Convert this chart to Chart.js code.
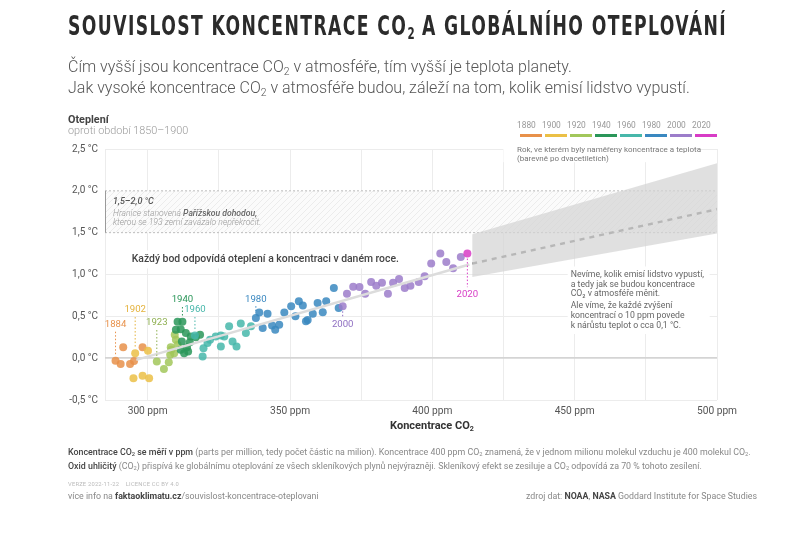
<!DOCTYPE html>
<html>
<head>
<meta charset="utf-8">
<script src="https://cdn.jsdelivr.net/npm/chart.js"></script>
<style>
  html, body { margin: 0; padding: 0; background: #fff; }
  body { width: 805px; height: 552px; position: relative; overflow: hidden; font-family: Roboto, sans-serif; }
  #wrap { position: absolute; left: 0; top: 0; width: 805px; height: 552px; }
  .abs { position: absolute; white-space: nowrap; }
  #title { left: 68px; top: 11px; font-family: 'DejaVu Sans Condensed', sans-serif; font-weight: bold; font-size: 27px; line-height: 30px; letter-spacing: 2px; color: #2b2b2b; transform-origin: 0 0; }
  #title sub { font-size: 60%; vertical-align: -0.25em; letter-spacing: 0; }
  #subtitle { left: 68px; top: 57px; font-size: 16px; font-weight: 300; line-height: 20.5px; color: #555; }
  sub { font-size: 65%; vertical-align: -0.25em; line-height: 0; }
  #ytitle { left: 68px; top: 114px; font-size: 10.8px; line-height: 11px; color: #444; }
  #ytitle b { font-weight: 700; color: #444; }
  #ytitle span { color: #999; font-weight: 300; }
  #xtitle { left: 0; width: 864px; top: 419px; text-align: center; font-size: 11px; font-weight: 700; color: #333; }
  .legyear { position: absolute; top: 120px; font-size: 8.4px; color: #999; }
  .legbar { position: absolute; top: 134px; height: 3px; }
  #legnote { left: 517px; top: 145px; font-size: 8px; line-height: 9px; color: #777; }
  #foot1 { left: 68px; top: 446px; font-size: 8.85px; line-height: 13.5px; color: #888; }
  #foot1 b { font-weight: 500; color: #444; }
  #ver { left: 68px; top: 481px; font-size: 5.8px; color: #bbb; letter-spacing: 0.2px; }
  #more { left: 68px; top: 491px; font-size: 8.8px; color: #888; }
  #more b, #src b { font-weight: 700; color: #444; }
  #src { right: 48px; top: 491px; font-size: 8.8px; color: #888; }
</style>
</head>
<body>
<div id="wrap"><canvas id="chart" width="805" height="552"></canvas></div>

<div id="title" class="abs">SOUVISLOST KONCENTRACE CO<sub>2</sub> A GLOBÁLNÍHO OTEPLOVÁNÍ</div>
<div id="subtitle" class="abs">Čím vyšší jsou koncentrace CO<sub>2</sub> v atmosféře, tím vyšší je teplota planety.<br>Jak vysoké koncentrace CO<sub>2</sub> v atmosféře budou, záleží na tom, kolik emisí lidstvo vypustí.</div>
<div id="ytitle" class="abs"><b>Oteplení</b><br><span>oproti období 1850–1900</span></div>
<div id="xtitle" class="abs">Koncentrace CO<sub>2</sub></div>
<div id="legend"></div>
<div id="legnote" class="abs">Rok, ve kterém byly naměřeny koncentrace a teplota<br>(barevně po dvacetiletích)</div>
<div id="foot1" class="abs"><b>Koncentrace CO<sub>2</sub> se měří v ppm</b> (parts per million, tedy počet částic na milion). Koncentrace 400 ppm CO<sub>2</sub> znamená, že v jednom milionu molekul vzduchu je 400 molekul CO<sub>2</sub>.<br><b>Oxid uhličitý</b> (CO<sub>2</sub>) přispívá ke globálnímu oteplování ze všech skleníkových plynů nejvýrazněji. Skleníkový efekt se zesiluje a CO<sub>2</sub> odpovídá za 70 % tohoto zesílení.</div>
<div id="ver" class="abs">VERZE 2022-11-22 &nbsp;&nbsp; LICENCE CC BY 4.0</div>
<div id="more" class="abs">více info na <b>faktaoklimatu.cz</b>/souvislost-koncentrace-oteplovani</div>
<div id="src" class="abs">zdroj dat: <b>NOAA</b>, <b>NASA</b> Goddard Institute for Space Studies</div>

<script>
// year of measurement, CO2 concentration (ppm), warming vs 1850-1900 (°C)
const years = [1884, 1886, 1889, 1893, 1899, 1898, 1902, 1904, 1909, 1911, 1914,
  1923, 1925, 1927, 1929, 1931, 1933, 1934, 1936, 1937, 1938,
  1940, 1941, 1942, 1943, 1944, 1945, 1946, 1947, 1948, 1949, 1950, 1951, 1953, 1956,
  1960, 1961, 1962, 1963, 1964, 1966, 1967, 1968, 1969, 1970, 1971, 1972, 1973, 1974, 1977,
  1980, 1981, 1982, 1983, 1984, 1985, 1986, 1987, 1988, 1989, 1990, 1991, 1992, 1993, 1994,
  1995, 1996, 1997, 1998, 1999,
  2000, 2001, 2002, 2003, 2004, 2005, 2006, 2007, 2008, 2009, 2010, 2011, 2012, 2013, 2014,
  2015, 2016, 2017, 2018, 2019, 2020];
const co2 = [288.7, 290.5, 291.4, 293.8, 295.2, 298.2, 295.6, 295.0, 298.2, 300.5, 300.1,
  303.2, 305.7, 307.4, 307.9, 308.3, 309.3, 308.1, 309.9, 310.5, 309.5,
  312.2, 310.5, 309.9, 311.6, 313.4, 315.1, 311.6, 312.8, 313.8, 312.0, 314.2, 314.8, 316.9, 318.4,
  316.6, 319.6, 321.0, 321.9, 319.3, 323.9, 325.7, 325.7, 326.9, 328.6, 329.8, 331.2, 332.7, 334.5, 336.3,
  338.0, 339.2, 340.4, 342.1, 343.7, 344.8, 346.2, 348.0, 350.4, 351.9, 353.1, 354.5, 355.6, 356.2, 358.0,
  359.7, 361.5, 362.7, 365.4, 367.1,
  368.5, 370.0, 372.2, 374.4, 376.4, 378.5, 380.3, 382.3, 384.4, 386.2, 388.3, 390.3, 392.3, 395.2, 397.3,
  399.6, 402.8, 404.9, 407.3, 410.0, 412.3];
const temp = [-0.03, -0.07, 0.13, -0.07, -0.035, 0.13, 0.06, -0.24, -0.21, -0.24, 0.09,
  -0.04, -0.13, -0.05, 0.04, 0.10, 0.06, 0.13, 0.22, 0.16, 0.28,
  0.435, 0.435, 0.34, 0.345, 0.30, 0.26, 0.10, 0.06, 0.13, 0.20, 0.08, 0.19, 0.25, 0.28,
  0.27, 0.12, 0.18, 0.22, 0.02, 0.26, 0.27, 0.14, 0.26, 0.38, 0.20, 0.14, 0.415, 0.30, 0.38,
  0.48, 0.545, 0.36, 0.53, 0.39, 0.34, 0.40, 0.545, 0.62, 0.50, 0.68, 0.63, 0.44, 0.455, 0.53,
  0.66, 0.55, 0.68, 0.84, 0.60,
  0.62, 0.77, 0.855, 0.85, 0.77, 0.91, 0.865, 0.90, 0.77, 0.90, 0.945, 0.84, 0.865, 0.91, 0.98,
  1.13, 1.25, 1.15, 1.075, 1.21, 1.25];

// twenty-year periods and their colours
const periodStarts = [1880, 1900, 1920, 1940, 1960, 1980, 2000, 2020];
const periodColors = ['#e8914a', '#ebc046', '#a2c75b', '#2a9659', '#47b7aa', '#3a88c0', '#9c7dca', '#d83cc6'];
const labelColors  = ['#e8914a', '#e4b23c', '#8fb052', '#2a9659', '#47b7aa', '#3a88c0', '#8f6fc2', '#d83cc6'];

// highlighted years and the warming at which their label sits
const labelYears = [1884, 1902, 1923, 1940, 1960, 1980, 2000, 2020];
const labelTemps = [0.40, 0.575, 0.42, 0.695, 0.576, 0.705, 0.40, 0.765];

// fitted trend and the projection beyond today
const trendCo2 = [296, 413];
const trendTemp = [-0.02, 1.12];
const projCo2 = [414, 500];
const projTemp = [1.13, 1.78];
const projLow = [0.97, 1.49];
const projHigh = [1.48, 2.33];

// Paris agreement band
const parisLow = 1.5, parisHigh = 2.0;

const xTicks = [285, 300, 325, 350, 375, 400, 425, 450, 475, 500];
const yTicks = [-0.5, 0, 0.5, 1.0, 1.5, 2.0, 2.5];

function periodIndex(y) { return Math.min(periodStarts.length - 1, Math.floor((y - 1880) / 20)); }
function alpha(hex, a) {
  const n = parseInt(hex.slice(1), 16);
  return `rgba(${n >> 16},${(n >> 8) & 255},${n & 255},${a})`;
}

// legend strip
const leg = document.getElementById('legend');
periodStarts.forEach((y, i) => {
  const left = 520 + i * 25;
  const t = document.createElement('div');
  t.className = 'legyear'; t.style.left = (left - 3) + 'px'; t.textContent = y;
  const b = document.createElement('div');
  b.className = 'legbar'; b.style.left = left + 'px'; b.style.width = '21.5px';
  b.style.background = periodColors[i];
  leg.appendChild(t); leg.appendChild(b);
});

// fit title width
const title = document.getElementById('title');
title.style.transform = 'scaleX(' + (659 / title.getBoundingClientRect().width) + ')';

const points = co2.map((c, i) => ({ x: c, y: temp[i] }));
const toXY = (xs, ys) => xs.map((x, i) => ({ x: x, y: ys[i] }));

const hatch = (() => {
  const c = document.createElement('canvas');
  c.width = 6; c.height = 6;
  const g = c.getContext('2d');
  g.fillStyle = '#fbfbfb'; g.fillRect(0, 0, 6, 6);
  g.strokeStyle = '#ececec'; g.lineWidth = 1;
  g.beginPath(); g.moveTo(0, 6); g.lineTo(6, 0); g.moveTo(-1, 1); g.lineTo(1, -1); g.moveTo(5, 7); g.lineTo(7, 5); g.stroke();
  return c;
})();

function textBox(ctx, lines, x, y, lh, pad) {
  let w = 0;
  lines.forEach(l => { w = Math.max(w, ctx.measureText(l).width); });
  ctx.fillStyle = '#fff';
  ctx.fillRect(x - pad, y - lh / 2 - pad, w + 2 * pad, lh * lines.length + 2 * pad);
}

const backdrop = {
  id: 'backdrop',
  beforeDatasetsDraw(chart) {
    const { ctx, chartArea: a, scales: { x, y } } = chart;
    ctx.save();
    // Paris band
    const yT = y.getPixelForValue(parisHigh), yB = y.getPixelForValue(parisLow);
    ctx.fillStyle = ctx.createPattern(hatch, 'repeat');
    ctx.fillRect(a.left, yT, a.right - a.left, yB - yT);
    ctx.strokeStyle = '#bdbdbd'; ctx.lineWidth = 1; ctx.setLineDash([2, 2]);
    ctx.beginPath();
    ctx.moveTo(a.left, yT); ctx.lineTo(a.right, yT);
    ctx.moveTo(a.left, yB); ctx.lineTo(a.right, yB);
    ctx.stroke();
    ctx.setLineDash([]);
    ctx.strokeStyle = '#9a9a9a';
    ctx.beginPath(); ctx.moveTo(a.left + 0.5, yT); ctx.lineTo(a.left + 0.5, yB); ctx.stroke();

    const px = a.left + 8;
    ctx.textBaseline = 'middle'; ctx.textAlign = 'left';
    ctx.font = 'italic 500 9px Roboto'; ctx.fillStyle = '#555';
    ctx.fillText('1,5–2,0 °C', px, yT + 11);
    ctx.font = 'italic 300 8.6px Roboto'; ctx.fillStyle = '#999';
    const pre = 'Hranice stanovená ';
    ctx.fillText(pre, px, yT + 23);
    const w1 = ctx.measureText(pre).width;
    ctx.font = 'italic 500 8.6px Roboto'; ctx.fillStyle = '#666';
    ctx.fillText('Pařížskou dohodou,', px + w1, yT + 23);
    ctx.font = 'italic 300 8.6px Roboto'; ctx.fillStyle = '#999';
    ctx.fillText('kterou se 193 zemí zavázalo nepřekročit.', px, yT + 32.5);

    // legend note backdrop
    ctx.font = '8px Roboto';
    textBox(ctx, ['Rok, ve kterém byly naměřeny koncentrace a teplota'], x.getPixelForValue(426) , y.getPixelForValue(2.48), 17, 3);

    // "each point" note
    const kx = x.getPixelForValue(294.4), ky = y.getPixelForValue(1.18);
    ctx.font = '500 10.4px Roboto';
    const ktxt = 'Každý bod odpovídá oteplení a koncentraci v daném roce.';
    textBox(ctx, [ktxt], kx, ky, 12, 3);
    ctx.fillStyle = '#444';
    ctx.fillText(ktxt, kx, ky);

    // projection note
    const nx = x.getPixelForValue(448.6);
    ctx.font = '8.7px Roboto';
    const notes = [
      ['Nevíme, kolik emisí lidstvo vypustí,', 1.0],
      ['a tedy jak se budou koncentrace', 0.882],
      ['CO₂ v atmosféře měnit.', 0.765],
      ['Ale víme, že každé zvýšení', 0.62],
      ['koncentrací o 10 ppm povede', 0.502],
      ['k nárůstu teplot o cca 0,1 °C.', 0.385]
    ];
    const ny0 = y.getPixelForValue(notes[0][1]), ny1 = y.getPixelForValue(notes[5][1]);
    ctx.fillStyle = '#fff';
    ctx.fillRect(nx - 3, ny0 - 8, 142, ny1 - ny0 + 16);
    ctx.fillStyle = '#666';
    notes.forEach(n => ctx.fillText(n[0], nx, y.getPixelForValue(n[1])));
    ctx.restore();
  }
};

const yearLabels = {
  id: 'yearLabels',
  afterDatasetsDraw(chart) {
    const { ctx, scales: { x, y } } = chart;
    ctx.save();
    ctx.font = '9.6px Roboto';
    ctx.textAlign = 'center'; ctx.textBaseline = 'middle';
    labelYears.forEach((yr, i) => {
      const k = years.indexOf(yr);
      const col = labelColors[periodIndex(yr)];
      const px = x.getPixelForValue(co2[k]);
      const py = y.getPixelForValue(temp[k]);
      const ly = y.getPixelForValue(labelTemps[i]);
      ctx.strokeStyle = col; ctx.lineWidth = 1; ctx.setLineDash([1.5, 2]);
      ctx.beginPath();
      if (ly < py) { ctx.moveTo(px, ly + 7); ctx.lineTo(px, py - 5); }
      else { ctx.moveTo(px, py + 5); ctx.lineTo(px, ly - 7); }
      ctx.stroke();
      ctx.setLineDash([]);
      ctx.fillStyle = col;
      ctx.fillText(String(yr), px, ly);
    });
    ctx.restore();
  }
};

new Chart(document.getElementById('chart'), {
  type: 'scatter',
  data: {
    datasets: [
      {
        type: 'line', data: toXY(projCo2, projLow), borderWidth: 0, pointRadius: 0, fill: false
      },
      {
        type: 'line', data: toXY(projCo2, projHigh), borderWidth: 0, pointRadius: 0,
        fill: '-1', backgroundColor: 'rgba(212,212,212,0.72)'
      },
      {
        type: 'line', data: toXY(trendCo2, trendTemp), borderColor: '#dcdcdc', borderWidth: 2.5, pointRadius: 0
      },
      {
        type: 'line', data: toXY(projCo2, projTemp), borderColor: '#6e6e6e', borderWidth: 2.4,
        borderDash: [5, 5], pointRadius: 0
      },
      {
        data: points,
        pointRadius: 4,
        borderWidth: 0,
        backgroundColor: ctx => alpha(periodColors[periodIndex(years[ctx.dataIndex])], 0.85)
      }
    ]
  },
  options: {
    responsive: false,
    animation: false,
    events: [],
    layout: { padding: { left: 60, right: 88, top: 149, bottom: 100 } },
    plugins: { legend: { display: false }, tooltip: { enabled: false } },
    scales: {
      x: {
        type: 'linear', min: 285, max: 500,
        afterBuildTicks: axis => { axis.ticks = xTicks.map(v => ({ value: v })); },
        afterFit: s => { s.height = 52; },
        grid: { color: '#ececec', drawTicks: false },
        border: { display: false },
        ticks: {
          padding: 5, color: '#555', font: { family: 'Roboto', size: 10.2 },
          callback: v => (v % 50 === 0 ? v + ' ppm' : '')
        }
      },
      y: {
        type: 'linear', min: -0.5, max: 2.5,
        afterBuildTicks: axis => { axis.ticks = yTicks.map(v => ({ value: v })); },
        afterFit: s => { s.width = 45; },
        grid: {
          drawTicks: false,
          color: c => (c.tick.value === 1.5 || c.tick.value === 2 ? 'rgba(0,0,0,0)' : c.tick.value === 0 ? '#d4d4d4' : '#ececec'),
          lineWidth: c => (c.tick.value === 0 ? 1.8 : 1)
        },
        border: { display: false },
        ticks: {
          padding: 7, color: '#555', font: { family: 'Roboto', size: 10 },
          callback: v => v.toFixed(1).replace('.', ',') + ' °C'
        }
      }
    }
  },
  plugins: [backdrop, yearLabels]
});
</script>
</body>
</html>
